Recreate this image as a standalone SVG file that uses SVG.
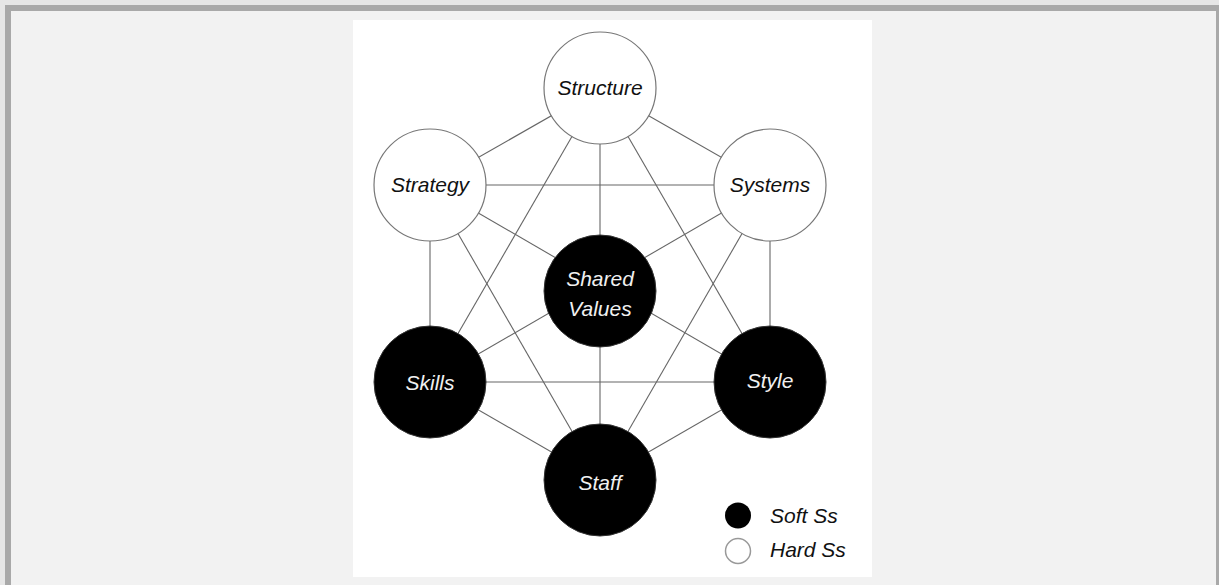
<svg xmlns="http://www.w3.org/2000/svg" width="1219" height="585" viewBox="0 0 1219 585">
  <style>
    .edge { stroke: #666; stroke-width: 1.1; fill: none; }
    .hard { fill: #ffffff; stroke: #777; stroke-width: 1.2; }
    .soft { fill: #000000; stroke: #333; stroke-width: 1; }
    .lbl { font-family: "Liberation Sans", Arial, sans-serif; font-style: italic; font-size: 21px; text-anchor: middle; }
    .dark { fill: #111; }
    .light { fill: #f0f0f0; }
    .key { font-family: "Liberation Sans", Arial, sans-serif; font-style: italic; font-size: 21px; fill: #111; }
  </style>

  <!-- page background and frame -->
  <rect x="0" y="0" width="1219" height="585" fill="#e6e6e6"/>
  <rect x="8" y="8" width="1211" height="600" fill="#f2f2f2" stroke="#a9a9a9" stroke-width="6"/>
  <rect x="353" y="20" width="519" height="557" fill="#ffffff"/>

  <!-- connectors: every pair of the six outer elements -->
  <g id="connectors">
    <line class="edge" x1="600" y1="88" x2="430" y2="185"/>
    <line class="edge" x1="600" y1="88" x2="770" y2="185"/>
    <line class="edge" x1="600" y1="88" x2="430" y2="382"/>
    <line class="edge" x1="600" y1="88" x2="770" y2="382"/>
    <line class="edge" x1="600" y1="88" x2="600" y2="480"/>
    <line class="edge" x1="430" y1="185" x2="770" y2="185"/>
    <line class="edge" x1="430" y1="185" x2="430" y2="382"/>
    <line class="edge" x1="430" y1="185" x2="770" y2="382"/>
    <line class="edge" x1="430" y1="185" x2="600" y2="480"/>
    <line class="edge" x1="770" y1="185" x2="770" y2="382"/>
    <line class="edge" x1="770" y1="185" x2="430" y2="382"/>
    <line class="edge" x1="770" y1="185" x2="600" y2="480"/>
    <line class="edge" x1="430" y1="382" x2="770" y2="382"/>
    <line class="edge" x1="430" y1="382" x2="600" y2="480"/>
    <line class="edge" x1="770" y1="382" x2="600" y2="480"/>
  </g>

  <g id="structure">
    <circle class="hard" cx="600" cy="88" r="56"/>
    <text class="lbl dark" x="600" y="95">Structure</text>
  </g>
  <g id="strategy">
    <circle class="hard" cx="430" cy="185" r="56"/>
    <text class="lbl dark" x="430" y="192">Strategy</text>
  </g>
  <g id="systems">
    <circle class="hard" cx="770" cy="185" r="56"/>
    <text class="lbl dark" x="770" y="192">Systems</text>
  </g>
  <g id="shared-values">
    <circle class="soft" cx="600" cy="291" r="56"/>
    <text class="lbl light" x="600" y="286">Shared</text>
    <text class="lbl light" x="600" y="316">Values</text>
  </g>
  <g id="skills">
    <circle class="soft" cx="430" cy="382" r="56"/>
    <text class="lbl light" x="430" y="390">Skills</text>
  </g>
  <g id="style">
    <circle class="soft" cx="770" cy="382" r="56"/>
    <text class="lbl light" x="770" y="388">Style</text>
  </g>
  <g id="staff">
    <circle class="soft" cx="600" cy="480" r="56"/>
    <text class="lbl light" x="600" y="490">Staff</text>
  </g>

  <!-- key -->
  <g id="legend">
    <circle cx="738" cy="515.5" r="13" fill="#000"/>
    <text class="key" x="770" y="523">Soft Ss</text>
    <circle cx="738" cy="551" r="12.5" fill="#fff" stroke="#999" stroke-width="1.5"/>
    <text class="key" x="770" y="557">Hard Ss</text>
  </g>
</svg>
